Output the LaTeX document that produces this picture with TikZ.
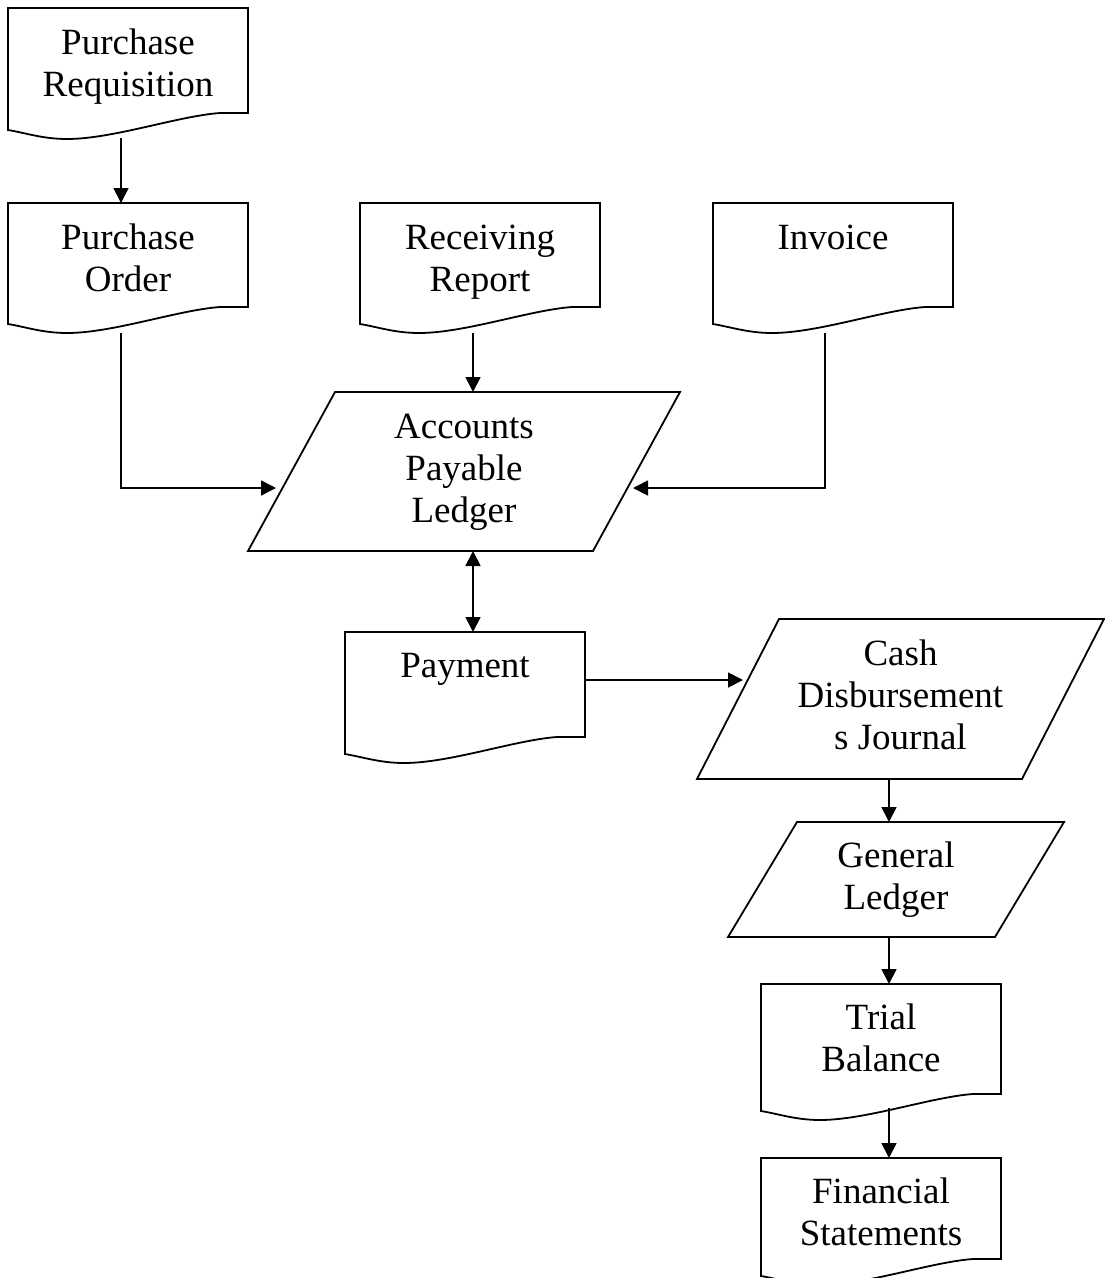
\documentclass[tikz,border=0pt]{standalone}
\usepackage{fontspec}
\setmainfont{Liberation Serif}
\usetikzlibrary{arrows.meta,calc}
\tikzset{
  shapeline/.style={draw=black, line width=1.8pt, line join=miter},
  docbox/.style={rectangle, inner sep=0pt, outer sep=0pt, minimum width=240pt, minimum height=130pt, anchor=north west},
  parabox/.style={rectangle, inner sep=0pt, outer sep=0pt, anchor=north west},
  txt/.style={font=\fontsize{37}{42}\selectfont, align=center, inner sep=0pt, anchor=north},
  arr/.style={draw=black, line width=1.8pt, -{Triangle[length=15pt,width=15pt]}},
  darr/.style={draw=black, line width=1.8pt, {Triangle[length=15pt,width=15pt]}-{Triangle[length=15pt,width=15pt]}},
}
% document outline: #1 node name, #2 height of the right side
\newcommand\docoutline[2]{%
  \draw[shapeline] (#1.north west) -- (#1.north east)
    -- ($(#1.north east)+(0,#2)$) -- ($(#1.north east)+(-28,#2)$)
    .. controls ($(#1.north east)+(-70,#2+3)$) and ($(#1.north west)+(105,#2+26)$) .. ($(#1.north west)+(59,#2+26)$)
    .. controls ($(#1.north west)+(35,#2+26)$) and ($(#1.north west)+(18,#2+20)$) .. ($(#1.north west)+(0,#2+17)$)
    -- cycle;}
% parallelogram outline: #1 node name, #2 slant
\newcommand\paraoutline[2]{%
  \draw[shapeline] ($(#1.north west)+(#2,0)$) -- (#1.north east)
    -- ($(#1.south east)+(-#2,0)$) -- (#1.south west) -- cycle;}
\begin{document}
\begin{tikzpicture}[x=1pt,y=-1pt]
\useasboundingbox (0,0) rectangle (1104,1278);
\fill[white] (0,0) rectangle (1104,1278);

% document nodes
\node[docbox] (pr) at (8,8) {};
\node[docbox] (po) at (8,203) {};
\node[docbox] (rr) at (360,203) {};
\node[docbox] (inv) at (713,203) {};
\node[docbox] (pay) at (345,632) {};
\node[docbox, minimum height=124pt] (tb) at (761,984) {};
\node[docbox] (fs) at (761,1158) {};

% parallelogram nodes
\node[parabox, minimum width=432pt, minimum height=159pt] (ap) at (248,392) {};
\node[parabox, minimum width=407pt, minimum height=160pt] (cd) at (697,619) {};
\node[parabox, minimum width=336pt, minimum height=115pt] (gl) at (728,822) {};

\docoutline{pr}{105}
\docoutline{po}{104}
\docoutline{rr}{104}
\docoutline{inv}{104}
\docoutline{pay}{105}
\docoutline{tb}{110}
\docoutline{fs}{101}
\paraoutline{ap}{87}
\paraoutline{cd}{82}
\paraoutline{gl}{69}

% texts
\node[txt] (pr-t) at ($(pr.north)+(0,16.6)$) {\strut Purchase\\Requisition};
\node[txt] (po-t) at ($(po.north)+(0,16.6)$) {\strut Purchase\\Order};
\node[txt] (rr-t) at ($(rr.north)+(0,16.6)$) {\strut Receiving\\Report};
\node[txt] (inv-t) at ($(inv.north)+(0,16.6)$) {\strut Invoice};
\node[txt] (ap-t) at ($(ap.north)+(0,16.6)$) {\strut Accounts\\Payable\\Ledger};
\node[txt] (pay-t) at ($(pay.north)+(0,15.6)$) {\strut Payment};
\node[txt] (cd-t) at ($(cd.north)+(0,16.6)$) {\strut Cash\\Disbursement\\s Journal};
\node[txt] (gl-t) at ($(gl.north)+(0,15.6)$) {\strut General\\Ledger};
\node[txt] (tb-t) at ($(tb.north)+(0,15.6)$) {\strut Trial\\Balance};
\node[txt] (fs-t) at ($(fs.north)+(0,15.6)$) {\strut Financial\\Statements};

% connector helper coordinates
\coordinate (colA) at (121,0);
\coordinate (colB) at (473,0);
\coordinate (colC) at (825,0);
\coordinate (colD) at (889,0);
\coordinate (apL) at (276,488);
\coordinate (apR) at (633,488);
\coordinate (cdL) at (743,680);

% connectors
\draw[arr] (pr.south -| colA) -- (po.north -| colA);
\draw[arr] (po.south -| colA) |- (apL);
\draw[arr] (rr.south -| colB) -- (ap.north -| colB);
\draw[arr] (inv.south -| colC) |- (apR);
\draw[darr] (ap.south -| colB) -- (pay.north -| colB);
\draw[arr] (pay.east |- cdL) -- (cdL);
\draw[arr] (cd.south -| colD) -- (gl.north -| colD);
\draw[arr] (gl.south -| colD) -- (tb.north -| colD);
\draw[arr] (tb.south -| colD) -- (fs.north -| colD);
\end{tikzpicture}
\end{document}
